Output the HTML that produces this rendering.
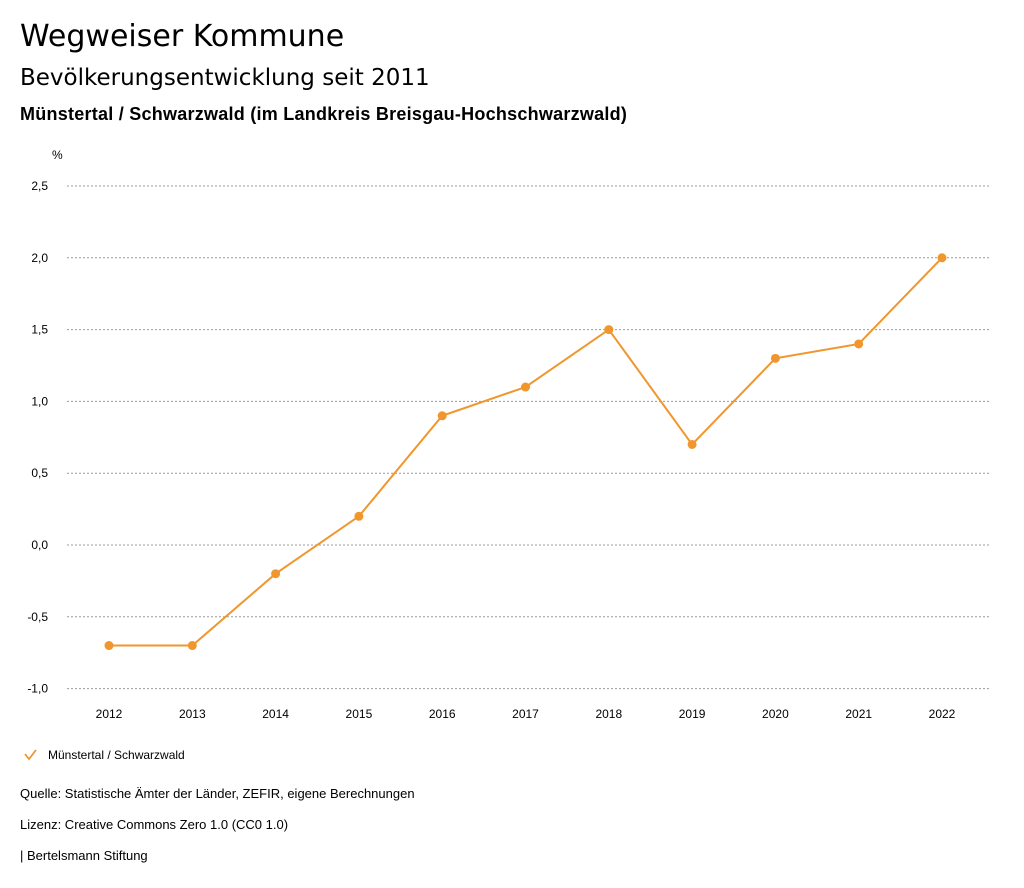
<!DOCTYPE html>
<html><head><meta charset="utf-8">
<style>
body{margin:0;width:1024px;height:888px;background:#fff;font-family:"Liberation Sans","DejaVu Sans",sans-serif;color:#000;overflow:hidden}
.t{position:absolute;left:20px;white-space:nowrap}
</style></head><body>
<div class="t" style="top:19px;font-size:30px;font-family:'DejaVu Sans',sans-serif">Wegweiser Kommune</div>
<div class="t" style="top:65px;font-size:23px;font-family:'DejaVu Sans',sans-serif">Bevölkerungsentwicklung seit 2011</div>
<div class="t" style="top:104px;font-size:18px;font-weight:bold;letter-spacing:0.25px">Münstertal / Schwarzwald (im Landkreis Breisgau-Hochschwarzwald)</div>
<svg id="chart" width="1024" height="888" style="position:absolute;left:0;top:0" font-family="Liberation Sans, DejaVu Sans, sans-serif"></svg>
<div class="t" style="top:786px;font-size:13px">Quelle: Statistische Ämter der Länder, ZEFIR, eigene Berechnungen</div>
<div class="t" style="top:817px;font-size:13px">Lizenz: Creative Commons Zero 1.0 (CC0 1.0)</div>
<div class="t" style="top:848px;font-size:13px">| Bertelsmann Stiftung</div>
<script>
const years=[2012,2013,2014,2015,2016,2017,2018,2019,2020,2021,2022];
const values=[-0.7,-0.7,-0.2,0.2,0.9,1.1,1.5,0.7,1.3,1.4,2.0];
const yTicks=[-1.0,-0.5,0,0.5,1.0,1.5,2.0,2.5];
const yTickLabels=["-1,0","-0,5","0,0","0,5","1,0","1,5","2,0","2,5"];
const NS="http://www.w3.org/2000/svg";
const svg=document.getElementById('chart');
const C='#f0962d';
function x(i){return 109+(942-109)*i/(years.length-1);}
function y(v){return 545-v*(545-186)/2.5;}
function mk(tag,attrs,txt){const e=document.createElementNS(NS,tag);for(const k in attrs)e.setAttribute(k,attrs[k]);if(txt!==undefined)e.textContent=txt;svg.appendChild(e);return e;}
let u=mk('text',{x:52,y:159,'font-size':12},'%');


yTicks.forEach((v,i)=>{
  const g=mk('line',{x1:67,x2:990,y1:y(v),y2:y(v),stroke:'#999','stroke-dasharray':'2,2','stroke-width':1});
  
  
  const t=mk('text',{x:48,y:y(v)+4,'font-size':12,'text-anchor':'end'},yTickLabels[i]);
  
  
});
years.forEach((yr,i)=>{
  const t=mk('text',{x:x(i),y:718,'font-size':12,'text-anchor':'middle'},yr);
  
  
});
const pl=mk('polyline',{points:values.map((v,i)=>x(i)+','+y(v)).join(' '),fill:'none',stroke:C,'stroke-width':2});


values.forEach((v,i)=>{
  const c=mk('circle',{cx:x(i),cy:y(v),r:4.5,fill:C});
  
  
});
const lm=mk('polyline',{points:'25,754 29,759 36,750',fill:'none',stroke:C,'stroke-width':1.8});


const lt=mk('text',{x:48,y:759,'font-size':12},'Münstertal / Schwarzwald');


</script>
</body></html>
